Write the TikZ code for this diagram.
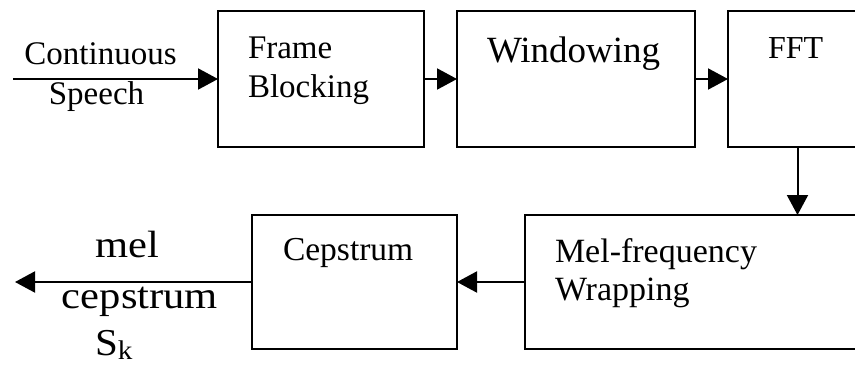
\documentclass[tikz,border=0pt]{standalone}
\usepackage{fontspec}
\setmainfont{Liberation Serif}
\usepackage{graphicx}
\usetikzlibrary{arrows.meta}
\begin{document}
\begin{tikzpicture}[x=1pt,y=-1pt,
  blk/.style={draw, line width=2pt, rectangle, inner sep=0pt, outer sep=0pt, anchor=north west},
  arr/.style={line width=2pt, -{Triangle[length=20pt,width=21pt]}},
  lbl/.style={inner sep=0pt, outer sep=0pt, anchor=base west, font=\fontsize{33}{40}\selectfont},
  big/.style={inner sep=0pt, outer sep=0pt, anchor=base, font=\fontsize{38}{44}\selectfont}]
\useasboundingbox (0,0) rectangle (855,367);
\clip (0,0) rectangle (855,367);
% boxes
\node[blk, minimum width=206pt, minimum height=136pt] (fb) at (218,11) {};
\node[blk, minimum width=238pt, minimum height=136pt] (win) at (457,11) {};
\node[blk, minimum width=139pt, minimum height=136pt] (fft) at (728,11) {};
\node[blk, minimum width=350pt, minimum height=134pt] (mel) at (525,215) {};
\node[blk, minimum width=205pt, minimum height=134pt] (cep) at (252,215) {};
% texts
\node[lbl, anchor=base] (t1) at (100.5,64) {Continuous};
\node[lbl, anchor=base] (t2) at (96.5,104) {Speech};
\node[lbl] (t3) at (248,58) {Frame};
\node[lbl] (t4) at (248,97) {Blocking};
\node[lbl, font=\fontsize{37}{40}\selectfont] (t5) at (487,62) {Windowing};
\node[lbl, font=\fontsize{32}{40}\selectfont] (t6) at (768,58) {FFT};
\node[lbl, font=\fontsize{33.5}{40}\selectfont] (t7) at (283,260) {Cepstrum};
\node[lbl, font=\fontsize{34}{40}\selectfont] (t8) at (555,262) {Mel-frequency};
\node[lbl, font=\fontsize{34}{40}\selectfont] (t9) at (555,300) {Wrapping};
\node[big] (o1) at (127,257) {\scalebox{1.12}[1]{mel}};
\node[big] (o2) at (140,308) {\scalebox{1.12}[1]{cepstrum}};
\node[big, anchor=base west] (o3) at (95,355) {\scalebox{1.08}[1]{S\raisebox{-0.12em}{\fontsize{27}{27}\selectfont k}}};
% connectors
\coordinate (in) at (13,79);
\coordinate (out) at (15,282);
\draw[arr] (in) -- (fb.west);
\draw[arr] (fb.east) -- (win.west);
\draw[arr] (win.east) -- (fft.west);
\draw[arr] (fft.south) -- (mel.north -| fft.south);
\draw[arr] (mel.west) -- (cep.east);
\draw[arr] (cep.west) -- (out);
\end{tikzpicture}
\end{document}
